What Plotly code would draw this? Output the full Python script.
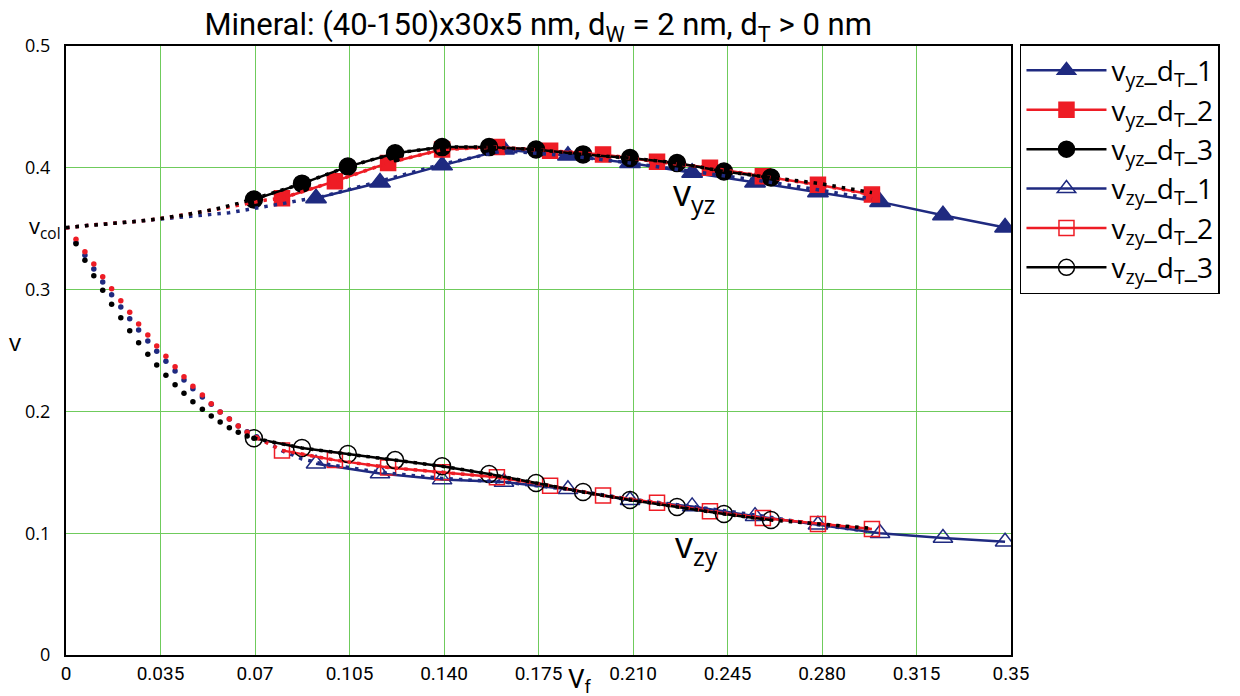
import plotly.graph_objects as go

# ---- measured data: Poisson ratios vs. filler volume fraction ----
vf_d1 = [0.0926, 0.1163, 0.1393, 0.1622, 0.1859, 0.2089, 0.2319, 0.2552, 0.2785, 0.3015, 0.3248, 0.3478]
vf_d2 = [0.0800, 0.0996, 0.1193, 0.1393, 0.1596, 0.1793, 0.1989, 0.2189, 0.2385, 0.2581, 0.2785, 0.2985]
vf_d3 = [0.0696, 0.0874, 0.1044, 0.1219, 0.1393, 0.1567, 0.1741, 0.1915, 0.2089, 0.2263, 0.2437, 0.2611]

v_yz_d1 = [0.375, 0.388, 0.402, 0.415, 0.410, 0.404, 0.396, 0.388, 0.380, 0.372, 0.361, 0.351]
v_yz_d2 = [0.375, 0.389, 0.404, 0.415, 0.417, 0.414, 0.411, 0.405, 0.400, 0.393, 0.386, 0.378]
v_yz_d3 = [0.374, 0.387, 0.401, 0.412, 0.417, 0.417, 0.415, 0.411, 0.408, 0.404, 0.397, 0.392]

v_zy_d1 = [0.157, 0.149, 0.144, 0.142, 0.136, 0.127, 0.122, 0.114, 0.107, 0.100, 0.096, 0.093]
v_zy_d2 = [0.168, 0.160, 0.154, 0.150, 0.146, 0.139, 0.131, 0.125, 0.118, 0.1125, 0.1076, 0.1034]
v_zy_d3 = [0.178, 0.170, 0.165, 0.160, 0.155, 0.1486, 0.1412, 0.1338, 0.1273, 0.1215, 0.1158, 0.1108]

# ---- model curves (dotted), starting from v_col at Vf = 0 ----
m_yz1_vf = [0, 0.0103, 0.0203, 0.0303, 0.037, 0.047, 0.0537, 0.0604, 0.067, 0.0741, 0.0807, 0.0874,
            0.0926, 0.1163, 0.1393, 0.1622, 0.1859, 0.2089, 0.2319, 0.2552, 0.2785, 0.2985]
m_yz1_v = [0.3506, 0.3533, 0.3549, 0.3569, 0.358, 0.3602, 0.3615, 0.3631, 0.3656, 0.3681, 0.3708, 0.3736,
           0.375, 0.389, 0.403, 0.414, 0.410, 0.404, 0.397, 0.390, 0.382, 0.3744]
m_yz2_vf = [0, 0.0103, 0.0203, 0.0303, 0.037, 0.0437, 0.0505, 0.0571, 0.0638, 0.0671, 0.0708, 0.0741,
            0.0800, 0.0996, 0.1193, 0.1393, 0.1596, 0.1793, 0.1989, 0.2189, 0.2385, 0.2581, 0.2785, 0.2985]
m_yz2_v = [0.3506, 0.3533, 0.3549, 0.3569, 0.359, 0.3612, 0.364, 0.3665, 0.3695, 0.3711, 0.3722, 0.3736,
           0.375, 0.389, 0.404, 0.415, 0.417, 0.414, 0.411, 0.405, 0.400, 0.393, 0.386, 0.378]
m_yz3_vf = [0, 0.0103, 0.0203, 0.0303, 0.037, 0.0437, 0.0505, 0.0571, 0.0638, 0.0696,
            0.0874, 0.1044, 0.1219, 0.1393, 0.1567, 0.1741, 0.1915, 0.2089, 0.2263, 0.2437, 0.2611, 0.2789, 0.2985]
m_yz3_v = [0.3510, 0.3533, 0.3549, 0.3569, 0.359, 0.3612, 0.364, 0.367, 0.3708, 0.3744,
           0.387, 0.401, 0.412, 0.417, 0.417, 0.415, 0.411, 0.408, 0.404, 0.397, 0.392, 0.3872, 0.3796]

m_zy1_vf = [0, 0.0037, 0.0070, 0.0103, 0.0136, 0.0169, 0.0203, 0.0236, 0.0269, 0.0303, 0.0336, 0.037,
            0.0404, 0.0437, 0.047, 0.0505, 0.0538, 0.0571, 0.0605, 0.0638, 0.0671, 0.0706,
            0.0807, 0.0841, 0.0874, 0.0907, 0.0926, 0.1163, 0.1393, 0.1622, 0.1859, 0.2089, 0.2319,
            0.2552, 0.2785, 0.2985]
m_zy1_v = [0.3506, 0.3385, 0.3281, 0.3169, 0.3062, 0.2958, 0.2857, 0.2761, 0.2668, 0.2578, 0.2493, 0.2411,
           0.2332, 0.2258, 0.2186, 0.2118, 0.2058, 0.1995, 0.1938, 0.188, 0.1833, 0.1792,
           0.1669, 0.1642, 0.1609, 0.1593, 0.158, 0.150, 0.145, 0.142, 0.136, 0.128, 0.122,
           0.115, 0.107, 0.101]
m_zy2_vf = [0, 0.0037, 0.0070, 0.0103, 0.0136, 0.0169, 0.0203, 0.0236, 0.0269, 0.0303, 0.0336, 0.037,
            0.0404, 0.0437, 0.047, 0.0505, 0.0538, 0.0571, 0.0605, 0.0638, 0.0671, 0.0706, 0.0741, 0.0774,
            0.0800, 0.0996, 0.1193, 0.1393, 0.1596, 0.1793, 0.1989, 0.2189, 0.2385, 0.2581, 0.2785, 0.2985]
m_zy2_v = [0.3506, 0.3413, 0.3311, 0.3210, 0.3106, 0.3007, 0.2909, 0.2814, 0.2718, 0.2627, 0.2537, 0.2452,
           0.2367, 0.2285, 0.2206, 0.2135, 0.2063, 0.1995, 0.1938, 0.188, 0.1828, 0.1784, 0.1746, 0.171,
           0.168, 0.160, 0.154, 0.150, 0.146, 0.139, 0.131, 0.125, 0.118, 0.1125, 0.1076, 0.1034]
m_zy3_vf = [0, 0.0037, 0.0070, 0.0103, 0.0136, 0.0169, 0.0203, 0.0236, 0.0269, 0.0303, 0.0336, 0.037,
            0.0404, 0.0437, 0.047, 0.0505, 0.0538, 0.0571, 0.0605, 0.0638, 0.0671, 0.0696,
            0.0874, 0.1044, 0.1219, 0.1393, 0.1567, 0.1741, 0.1915, 0.2089, 0.2263, 0.2437, 0.2611,
            0.2789, 0.2985]
m_zy3_v = [0.3506, 0.3377, 0.3241, 0.3114, 0.2994, 0.2879, 0.2769, 0.2663, 0.2564, 0.2469, 0.2381, 0.2296,
           0.2219, 0.2148, 0.2080, 0.2017, 0.1962, 0.1913, 0.1866, 0.1828, 0.1798, 0.178,
           0.170, 0.165, 0.160, 0.155, 0.1486, 0.1412, 0.1338, 0.1273, 0.1215, 0.1158, 0.1108,
           0.1076, 0.104]

x_tickvals = [0, 0.035, 0.07, 0.105, 0.14, 0.175, 0.21, 0.245, 0.28, 0.315, 0.35]
x_ticktext = ["0", "0.035", "0.07", "0.105", "0.140", "0.175", "0.210", "0.245", "0.280", "0.315", "0.35"]
y_tickvals = [0, 0.1, 0.2, 0.3, 0.4, 0.5]
y_ticktext = ["0", "0.1", "0.2", "0.3", "0.4", "0.5"]

NAVY = "#1f2a80"
RED = "#ee1c25"
BLACK = "#000000"
NARROW = "Liberation Sans Narrow, Roboto, Open Sans, sans-serif"
SANS = "Open Sans, Noto Sans, sans-serif"
DOT_SPLIT = 0.071   # steep start of the v_zy model curves is drawn dot by dot

fig = go.Figure()

series = [
    (vf_d1, v_yz_d1, NAVY, "triangle-up", "v<sub>yz</sub>_d<sub>T</sub>_1", 18),
    (vf_d2, v_yz_d2, RED, "square", "v<sub>yz</sub>_d<sub>T</sub>_2", 15),
    (vf_d3, v_yz_d3, BLACK, "circle", "v<sub>yz</sub>_d<sub>T</sub>_3", 17),
    (vf_d1, v_zy_d1, NAVY, "triangle-up-open", "v<sub>zy</sub>_d<sub>T</sub>_1", 17),
    (vf_d2, v_zy_d2, RED, "square-open", "v<sub>zy</sub>_d<sub>T</sub>_2", 15),
    (vf_d3, v_zy_d3, BLACK, "circle-open", "v<sub>zy</sub>_d<sub>T</sub>_3", 17),
]
for xs, ys, col, sym, name, size in series:
    fig.add_trace(go.Scatter(
        x=xs, y=ys, name=name, mode="lines+markers",
        line=dict(color=col, width=2.5),
        marker=dict(symbol=sym, size=size, color=col, line=dict(color=col, width=1.5)),
    ))

DOT_LINE = "3.5px,6px"
for xs, ys, col in [(m_yz1_vf, m_yz1_v, NAVY), (m_yz2_vf, m_yz2_v, RED), (m_yz3_vf, m_yz3_v, BLACK)]:
    fig.add_trace(go.Scatter(
        x=xs, y=ys, mode="lines", showlegend=False, hoverinfo="skip",
        line=dict(color=col, width=3.5, dash=DOT_LINE),
    ))

for xs, ys, col in [(m_zy1_vf, m_zy1_v, NAVY), (m_zy2_vf, m_zy2_v, RED), (m_zy3_vf, m_zy3_v, BLACK)]:
    head = [i for i, x in enumerate(xs) if 0 < x <= DOT_SPLIT]
    tail = [i for i, x in enumerate(xs) if x >= xs[head[-1]]]
    fig.add_trace(go.Scatter(
        x=[xs[i] for i in head], y=[ys[i] for i in head], mode="markers",
        showlegend=False, hoverinfo="skip",
        marker=dict(symbol="circle", size=5.5, color=col, line=dict(width=0)),
    ))
    fig.add_trace(go.Scatter(
        x=[xs[i] for i in tail], y=[ys[i] for i in tail], mode="lines",
        showlegend=False, hoverinfo="skip",
        line=dict(color=col, width=3.5, dash=DOT_LINE),
    ))

TXT = dict(color="black", family=SANS)
annotations = [
    dict(text="v<sub>col</sub>", xref="paper", yref="y", x=-0.003, y=0.351, showarrow=False,
         xanchor="right", yanchor="middle", font=dict(size=22, **TXT)),
    dict(text="v", xref="paper", yref="paper", x=-0.054, y=0.515, showarrow=False,
         xanchor="center", yanchor="middle", font=dict(size=24, **TXT)),
    dict(text="V<sub>f</sub>", xref="x", yref="paper", x=0.1905, y=-0.012, showarrow=False,
         xanchor="center", yanchor="top", font=dict(size=26, color="black", family=NARROW)),
    dict(text="v<sub>yz</sub>", xref="x", yref="y", x=0.2325, y=0.378, showarrow=False,
         xanchor="center", yanchor="middle", font=dict(size=36, **TXT)),
    dict(text="v<sub>zy</sub>", xref="x", yref="y", x=0.2335, y=0.089, showarrow=False,
         xanchor="center", yanchor="middle", font=dict(size=36, **TXT)),
]

fig.update_layout(
    width=1240, height=696,
    margin=dict(l=66, r=229, t=46, b=41),
    paper_bgcolor="white", plot_bgcolor="white",
    title=dict(text="Mineral: (40-150)x30x5 nm, d<sub>W</sub> = 2 nm, d<sub>T</sub> &gt; 0 nm",
               x=0.434, xanchor="center", y=0.965, yanchor="middle",
               font=dict(size=31, family=NARROW, color="black")),
    xaxis=dict(range=[0, 0.35], tickvals=x_tickvals, ticktext=x_ticktext,
               showgrid=True, gridcolor="#6fcb5c", gridwidth=1,
               showline=True, linecolor="black", linewidth=2, mirror=True,
               zeroline=False, ticks="",
               tickfont=dict(size=19, family=NARROW, color="black")),
    yaxis=dict(range=[0, 0.5], tickvals=y_tickvals, ticktext=y_ticktext,
               showgrid=True, gridcolor="#6fcb5c", gridwidth=1,
               showline=True, linecolor="black", linewidth=2, mirror=True,
               zeroline=False, ticks="outside", ticklen=10, tickcolor="white",
               tickfont=dict(size=18, family=SANS, color="black")),
    legend=dict(x=1.0095, y=1.003, xanchor="left", yanchor="top",
                bordercolor="black", borderwidth=1.5, bgcolor="white",
                itemwidth=80, tracegroupgap=0,
                font=dict(size=28, family=SANS, color="black")),
    annotations=annotations,
    showlegend=True,
)

fig.write_html("out.html")
